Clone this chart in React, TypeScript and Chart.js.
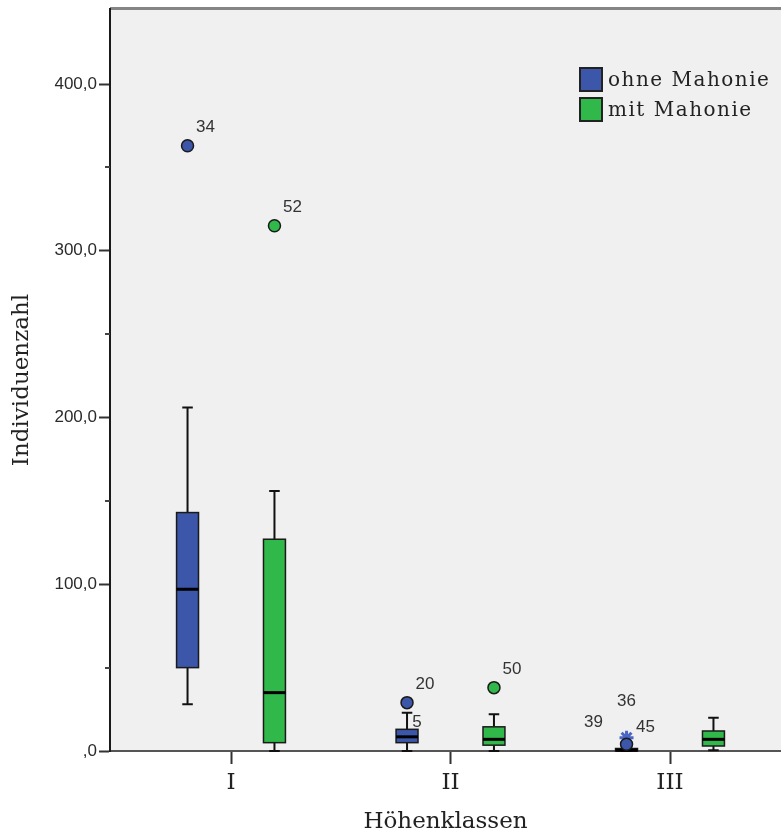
import React, { useEffect, useRef } from 'react';
import { Chart, registerables } from 'chart.js';

Chart.register(...registerables);

// Height classes on the x axis
const groups = ['I', 'II', 'III'];
const seriesNames = ['ohne Mahonie', 'mit Mahonie'];
const seriesColors = ['#3c56aa', '#31b84a'];

// Box-plot summaries per height class: "ohne Mahonie"
const ohneLow = [28, 0, 0];
const ohneQ1 = [50, 5, 0];
const ohneMedian = [97, 8.5, 0.5];
const ohneQ3 = [143, 13, 1.5];
const ohneHigh = [206, 23, 2];

// Box-plot summaries per height class: "mit Mahonie"
const mitLow = [0, 0, 0.5];
const mitQ1 = [5, 3.5, 3];
const mitMedian = [35, 7, 7];
const mitQ3 = [127, 14.5, 12];
const mitHigh = [156, 22, 20];

// Outliers (circles) and extremes (stars): group index, value
const ohneOutlierGroups = [0, 1, 2];
const ohneOutlierValues = [363, 29, 4];
const ohneExtremeGroups = [2];
const ohneExtremeValues = [8];
const mitOutlierGroups = [0, 1];
const mitOutlierValues = [315, 38];

// Case numbers written next to points: series index, group index, value, case id
const caseSeries = [0, 0, 0, 0, 0, 0, 1, 1];
const caseGroups = [0, 1, 1, 2, 2, 2, 0, 1];
const caseValues = [363, 29, 23, 8, 4, 4, 315, 38];
const caseIds = ['34', '20', '5', '36', '39', '45', '52', '50'];

const yMax = 445;
const yStep = 50;
const yLabelStep = 100;

const SERIES_SHIFT = 0.198;
const BOX_HALF = 0.05;
const CAP_HALF = 0.024;

const SERIF = '"DejaVu Serif", serif';
const SANS = '"Liberation Sans", Arial, sans-serif';

const fmt = (v: number) => (v === 0 ? ',0' : v.toFixed(1).replace('.', ','));

const boxStats = [
  { low: ohneLow, q1: ohneQ1, med: ohneMedian, q3: ohneQ3, high: ohneHigh },
  { low: mitLow, q1: mitQ1, med: mitMedian, q3: mitQ3, high: mitHigh },
];

const xFor = (series: number, group: number) =>
  group + 1 + (series === 0 ? -SERIES_SHIFT : SERIES_SHIFT);

// Placement of case ids around their point, in pixels
const labelOffset = (id: string): [number, number] => {
  switch (id) {
    case '5':
      return [10, 10];
    case '36':
      return [0, -36];
    case '39':
      return [-33, -22];
    case '45':
      return [19, -17];
    default:
      return [18, -18];
  }
};

const boxPlotPlugin = {
  id: 'boxPlot',
  beforeDraw(chart: any) {
    const { ctx, chartArea } = chart;
    ctx.save();
    ctx.fillStyle = '#f0f0f0';
    ctx.fillRect(chartArea.left, chartArea.top, chartArea.right - chartArea.left, chartArea.bottom - chartArea.top);
    ctx.strokeStyle = '#858585';
    ctx.lineWidth = 3;
    ctx.beginPath();
    ctx.moveTo(chartArea.left, chartArea.top - 0.5);
    ctx.lineTo(chartArea.right, chartArea.top - 0.5);
    ctx.stroke();
    ctx.restore();
  },
  beforeDatasetsDraw(chart: any) {
    const { ctx, scales } = chart;
    const xs = scales.x;
    const ys = scales.y;
    ctx.save();
    // short minor ticks on the y axis
    ctx.strokeStyle = '#444';
    ctx.lineWidth = 2;
    for (let v = yStep; v <= yMax; v += yStep) {
      if (v % yLabelStep === 0) continue;
      const py = Math.round(ys.getPixelForValue(v));
      ctx.beginPath();
      ctx.moveTo(xs.left - 5, py);
      ctx.lineTo(xs.left, py);
      ctx.stroke();
    }
    boxStats.forEach((s, si) => {
      groups.forEach((_, gi) => {
        const cx = xs.getPixelForValue(xFor(si, gi));
        const left = xs.getPixelForValue(xFor(si, gi) - BOX_HALF);
        const right = xs.getPixelForValue(xFor(si, gi) + BOX_HALF);
        const capL = xs.getPixelForValue(xFor(si, gi) - CAP_HALF);
        const capR = xs.getPixelForValue(xFor(si, gi) + CAP_HALF);
        const yLow = ys.getPixelForValue(s.low[gi]);
        const yQ1 = ys.getPixelForValue(s.q1[gi]);
        const yMed = ys.getPixelForValue(s.med[gi]);
        const yQ3 = ys.getPixelForValue(s.q3[gi]);
        const yHigh = ys.getPixelForValue(s.high[gi]);
        // whiskers
        ctx.strokeStyle = '#111';
        ctx.lineWidth = 2;
        ctx.beginPath();
        ctx.moveTo(cx, yQ1);
        ctx.lineTo(cx, yLow);
        ctx.moveTo(cx, yQ3);
        ctx.lineTo(cx, yHigh);
        ctx.moveTo(capL, yLow);
        ctx.lineTo(capR, yLow);
        ctx.moveTo(capL, yHigh);
        ctx.lineTo(capR, yHigh);
        ctx.stroke();
        // box
        ctx.fillStyle = seriesColors[si];
        ctx.fillRect(left, yQ3, right - left, yQ1 - yQ3);
        ctx.strokeStyle = '#1a1a1a';
        ctx.lineWidth = 1.5;
        ctx.strokeRect(left, yQ3, right - left, yQ1 - yQ3);
        // median
        ctx.strokeStyle = '#000';
        ctx.lineWidth = 3;
        ctx.beginPath();
        ctx.moveTo(left, yMed);
        ctx.lineTo(right, yMed);
        ctx.stroke();
      });
    });
    ctx.restore();
  },
  afterDatasetsDraw(chart: any) {
    const { ctx, scales } = chart;
    ctx.save();
    ctx.font = '17px ' + SANS;
    ctx.fillStyle = '#333';
    ctx.textAlign = 'center';
    ctx.textBaseline = 'middle';
    caseIds.forEach((id, i) => {
      const px = scales.x.getPixelForValue(xFor(caseSeries[i], caseGroups[i]));
      const py = scales.y.getPixelForValue(caseValues[i]);
      const [dx, dy] = labelOffset(id);
      ctx.fillText(id, px + dx, py + dy);
    });
    ctx.restore();
  },
  afterDraw(chart: any) {
    const { ctx, chartArea } = chart;
    ctx.save();
    const lx = chartArea.right - 201;
    const ly = chartArea.top + 59;
    ctx.font = '20px ' + SERIF;
    (ctx as any).letterSpacing = '1.5px';
    ctx.textBaseline = 'middle';
    ctx.textAlign = 'left';
    seriesNames.forEach((name, i) => {
      const top = ly + i * 30;
      ctx.fillStyle = seriesColors[i];
      ctx.fillRect(lx, top, 22, 23);
      ctx.strokeStyle = '#222';
      ctx.lineWidth = 2;
      ctx.strokeRect(lx, top, 22, 23);
      ctx.fillStyle = '#222';
      ctx.fillText(name, lx + 28, top + 12.5);
    });
    ctx.restore();
  },
};

export default function App() {
  const canvasRef = useRef<HTMLCanvasElement | null>(null);

  useEffect(() => {
    if (!canvasRef.current) return;
    const xMin = 1 - 121 / 219.5;
    const xMax = xMin + 671 / 219.5;
    const pointStyleOf = (color: string) => ({
      backgroundColor: color,
      borderColor: '#1a1a1a',
      borderWidth: 1.5,
      pointRadius: 6,
      pointHoverRadius: 6,
      pointStyle: 'circle',
      clip: false,
    });
    const chart = new Chart(canvasRef.current, {
      type: 'scatter',
      data: {
        datasets: [
          {
            label: seriesNames[0],
            data: ohneOutlierGroups.map((g, i) => ({ x: xFor(0, g), y: ohneOutlierValues[i] })),
            ...pointStyleOf(seriesColors[0]),
          },
          {
            label: seriesNames[1],
            data: mitOutlierGroups.map((g, i) => ({ x: xFor(1, g), y: mitOutlierValues[i] })),
            ...pointStyleOf(seriesColors[1]),
          },
          {
            label: seriesNames[0] + ' (extrem)',
            data: ohneExtremeGroups.map((g, i) => ({ x: xFor(0, g), y: ohneExtremeValues[i] })),
            pointStyle: 'star',
            pointRadius: 7,
            pointHoverRadius: 7,
            borderColor: '#4a66c4',
            backgroundColor: '#4a66c4',
            borderWidth: 3,
            clip: false,
          },
        ] as any,
      },
      options: {
        responsive: false,
        animation: false,
        devicePixelRatio: 1,
        layout: { autoPadding: false, padding: { top: 9, right: 0, left: 0, bottom: 0 } },
        plugins: { legend: { display: false }, tooltip: { enabled: false } },
        scales: {
          x: {
            type: 'linear',
            min: xMin,
            max: xMax,
            afterBuildTicks: (s: any) => {
              s.ticks = groups.map((_, i) => ({ value: i + 1 }));
            },
            afterFit: (s: any) => {
              s.height = 83;
              s.paddingLeft = 0;
              s.paddingRight = 0;
            },
            ticks: {
              callback: (v: any) => groups[Math.round(Number(v)) - 1] ?? '',
              font: { family: SERIF, size: 23, lineHeight: 1 },
              color: '#222',
              padding: 8,
              maxRotation: 0,
              autoSkip: false,
            },
            grid: { drawOnChartArea: false, tickLength: 13, tickColor: '#333', tickWidth: 2 },
            border: { color: '#555', width: 2 },
            title: {
              display: true,
              text: 'Höhenklassen',
              font: { family: SERIF, size: 23, lineHeight: 1 },
              color: '#222',
              padding: { top: 0, bottom: 0 },
            },
          },
          y: {
            type: 'linear',
            min: 0,
            max: yMax,
            afterBuildTicks: (s: any) => {
              s.ticks = s.ticks.filter((t: any) => t.value % yStep === 0);
            },
            afterFit: (s: any) => {
              s.width = 110;
              s.paddingTop = 0;
              s.paddingBottom = 0;
            },
            ticks: {
              stepSize: yStep,
              callback: (v: any) => (Number(v) % yLabelStep === 0 ? fmt(Number(v)) : ''),
              font: { family: SANS, size: 17 },
              color: '#2a2a2a',
              padding: 2,
            },
            grid: {
              drawOnChartArea: false,
              tickLength: 11,
              tickWidth: 2,
              tickColor: (c: any) => (c.tick && c.tick.value % yLabelStep === 0 ? '#333' : 'rgba(0,0,0,0)'),
            },
            border: { color: '#1a1a1a', width: 2 },
            title: {
              display: true,
              text: 'Individuenzahl',
              font: { family: SERIF, size: 23, lineHeight: 1 },
              color: '#222',
              padding: { top: 11, bottom: 0 },
            },
          },
        },
      } as any,
      plugins: [boxPlotPlugin],
    });
    return () => chart.destroy();
  }, []);

  return (
    <div style={{ position: 'absolute', left: 0, top: 0, width: 781, height: 834, background: '#fff' }}>
      <canvas ref={canvasRef} width={781} height={834} />
    </div>
  );
}
